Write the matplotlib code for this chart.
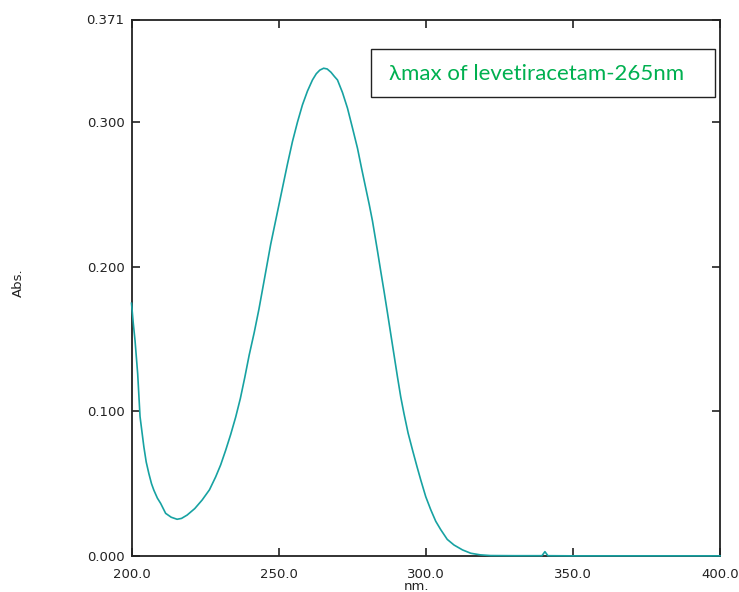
import matplotlib.pyplot as plt
from matplotlib.patches import Rectangle

# spectrum (wavelength in nm, absorbance)
wavelength = [200.0, 200.6, 201.2, 202.1, 202.9, 204.2, 205.0, 205.9, 206.8,
              207.6, 208.8, 209.9, 211.6, 213.5, 215.5, 217.0, 218.9, 221.5, 224.0,
              226.5, 228.6, 230.3, 232.0, 233.7, 235.4, 237.0, 238.5, 240.0, 241.7,
              243.3, 245.3, 247.3, 249.3, 251.3, 253.0, 254.7, 256.4, 258.1, 259.8,
              261.5, 262.8, 264.0, 265.3, 266.5, 267.8, 269.0, 270.0, 271.7, 273.4,
              275.1, 276.8, 278.2, 279.6, 280.8, 281.9, 283.6, 284.7, 285.8, 287.0,
              288.1, 289.3, 290.4, 291.5, 292.6, 294.0, 295.5, 297.0, 298.3, 300.0,
              301.7, 303.4, 305.1, 307.3, 309.6, 312.5, 315.3, 318.5, 322.0, 330.0,
              339.5, 340.5, 341.5, 350.0, 370.0, 400.0]
absorbance = [0.1748, 0.161, 0.149, 0.126, 0.0964, 0.0755, 0.065, 0.0570, 0.050,
              0.0455, 0.040, 0.0364, 0.0295, 0.0268, 0.0254, 0.0260, 0.0283, 0.0328, 0.0387,
              0.0458, 0.0547, 0.063, 0.0731, 0.084, 0.0960, 0.109, 0.1235, 0.139, 0.1545,
              0.1706, 0.193, 0.2155, 0.235, 0.2545, 0.271, 0.2866, 0.300, 0.3120, 0.3215,
              0.3292, 0.3335, 0.3360, 0.3373, 0.3368, 0.3345, 0.3315, 0.3292, 0.3205, 0.3097,
              0.296, 0.2820, 0.268, 0.2545, 0.243, 0.2316, 0.2109, 0.197, 0.1834, 0.168,
              0.1536, 0.138, 0.1237, 0.110, 0.0985, 0.085, 0.0733, 0.062, 0.0526, 0.041,
              0.0320, 0.024, 0.0182, 0.0115, 0.0076, 0.0042, 0.0019, 0.0008, 0.0003, 0.0002,
              0.0002, 0.0030, 0.0002, 0.0001, 0.0001, 0.0001]

x_ticks = [200, 250, 300, 350, 400]
x_labels = ['200.0', '250.0', '300.0', '350.0', '400.0']
y_ticks = [0.0, 0.1, 0.2, 0.3, 0.371]
y_labels = ['0.000', '0.100', '0.200', '0.300', '0.371']

plt.rcParams['font.family'] = ['DejaVu Sans']

fig = plt.figure(figsize=(7.39, 5.92), dpi=100)
ax = fig.add_axes([131.5 / 739, 1 - 556 / 592, 588.5 / 739, 536.5 / 592])

ax.plot(wavelength, absorbance, color='#17a2a2', lw=1.2, zorder=5, clip_on=False)

ax.set_xlim(200, 400)
ax.set_ylim(0, 0.371)
ax.set_xticks(x_ticks, x_labels)
ax.set_yticks(y_ticks, y_labels)
ax.tick_params(direction='in', length=6, width=1.2, top=True, right=True,
               labelsize=9.5, colors='#222222')
ax.tick_params(axis='x', pad=9)
ax.tick_params(axis='y', pad=5)
for s in ax.spines.values():
    s.set_linewidth(1.3)
    s.set_color('#222222')

ax.set_xlabel('nm.', fontsize=9.5, color='#222222')
ax.xaxis.set_label_coords(0.485, -0.045)
ax.set_ylabel('Abs.', fontsize=9.5, color='#222222')
ax.yaxis.set_label_coords(-0.181, 0.51)

ax.add_patch(Rectangle((0.407, 0.855), 0.585, 0.0895, transform=ax.transAxes,
                       fill=False, edgecolor='#222222', lw=1.0, zorder=6))
ax.text(0.438, 0.899, 'λmax of levetiracetam-265nm', transform=ax.transAxes,
        color='#00b050', fontsize=16, family=['Lato', 'DejaVu Sans'],
        va='center', ha='left', zorder=7)

fig.savefig('out.png', dpi=100)
